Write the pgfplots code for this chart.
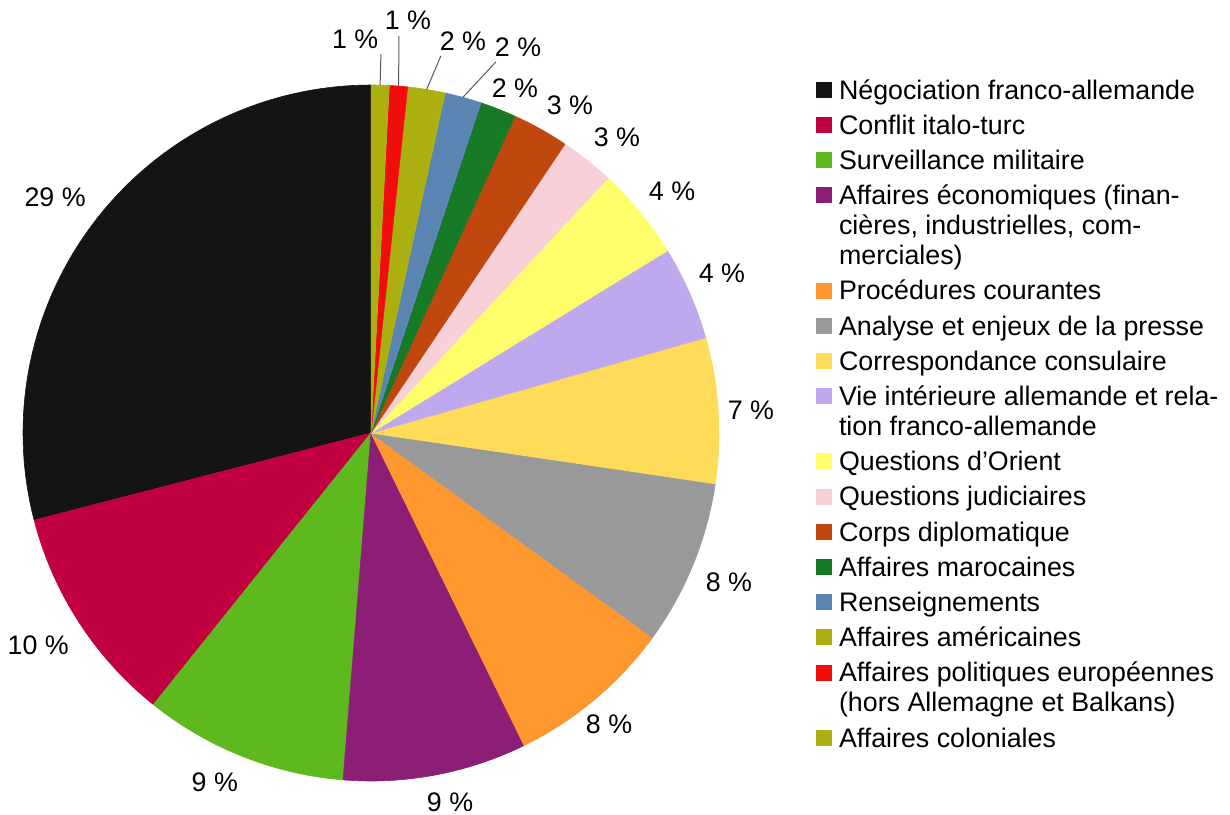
\documentclass[border=0pt]{standalone}
\usepackage{fontspec}
\setmainfont{Liberation Sans}
\usepackage{pgfplots}
\pgfplotsset{compat=1.18}
\usepgfplotslibrary{polar}
\usepackage{pgfplotstable}

\definecolor{cNeg}{HTML}{141414}
\definecolor{cIta}{HTML}{C0003F}
\definecolor{cSur}{HTML}{5EB91E}
\definecolor{cEco}{HTML}{8D1E75}
\definecolor{cPro}{HTML}{FF972F}
\definecolor{cPre}{HTML}{999999}
\definecolor{cCon}{HTML}{FFDB5A}
\definecolor{cVie}{HTML}{BEA8EE}
\definecolor{cOri}{HTML}{FFFF6B}
\definecolor{cJud}{HTML}{F8D1D8}
\definecolor{cDip}{HTML}{C0470D}
\definecolor{cMar}{HTML}{177825}
\definecolor{cRen}{HTML}{5A84B2}
\definecolor{cAme}{HTML}{ABB010}
\definecolor{cEur}{HTML}{F10D0C}
\definecolor{cCol}{HTML}{ABB010}

% line strut for the legend: 10.5pt up, 4.5pt down
\newcommand\ls{\rule[-4.5pt]{0pt}{15pt}}
\newcommand\ml[1]{\parbox[t]{195pt}{\setlength\baselineskip{15pt}#1}}

% share (%), colour, printed percentage, label angle and radius
\pgfplotstableread{
share col  pct la     lr
29.03 cNeg 29  143.25 1.133
10.22 cIta 10  212.5  1.134
9.47  cSur 9   245.9  1.099
8.53  cEco 9   282.1  1.084
7.75  cPro 8   309.3  1.080
7.67  cPre 8   337.3  1.115
6.75  cCon 7   3.46   1.094
4.36  cVie 4   24.5   1.108
4.30  cOri 4   38.8   1.110
2.51  cJud 3   50.3   1.106
2.62  cDip 3   58.75  1.102
1.67  cMar 2   67.35  1.074
1.70  cRen 2   69.15  1.187
1.74  cAme 2   76.8   1.157
0.84  cEur 1   84.9   1.192
0.84  cCol 1   92.3   1.133
}\piedata

\begin{document}
\begin{tikzpicture}[font=\fontsize{13.4}{15}\selectfont]
\begin{polaraxis}[
    at={(0pt,0pt)}, anchor=center,
    scale only axis, width=348pt, height=348pt,
    hide axis, clip=false,
    xmin=0, xmax=360, ymin=0, ymax=1,
    legend style={
        draw=none, fill=none,
        at={(axis description cs:1.1394,1.0098)}, anchor=north west,
        inner sep=0pt, outer sep=0pt,
        row sep=2.6pt, column sep=3.7pt,
        nodes={inner sep=0pt, outer sep=0pt, text depth=, text height=},
        cells={anchor=base west},
    },
    legend image code/.code={\fill[#1] (0pt,1pt) rectangle (7.5pt,8.5pt);},
    legend entries={
        {\ls Négociation franco-allemande},
        {\ls Conflit italo-turc},
        {\ls Surveillance militaire},
        {\ml{\ls Affaires économiques (finan-\\\ls cières, industrielles, com-\\\ls merciales)}},
        {\ls Procédures courantes},
        {\ls Analyse et enjeux de la presse},
        {\ls Correspondance consulaire},
        {\ml{\ls Vie intérieure allemande et rela-\\\ls tion franco-allemande}},
        {\ls Questions d’Orient},
        {\ls Questions judiciaires},
        {\ls Corps diplomatique},
        {\ls Affaires marocaines},
        {\ls Renseignements},
        {\ls Affaires américaines},
        {\ml{\ls Affaires politiques européennes\\\ls (hors Allemagne et Balkans)}},
        {\ls Affaires coloniales},
    },
]
\def\cum{0}
\pgfplotsforeachungrouped \i in {0,...,15}{%
    \pgfplotstablegetelem{\i}{share}\of\piedata \let\s\pgfplotsretval
    \pgfplotstablegetelem{\i}{col}\of\piedata \let\c\pgfplotsretval
    \pgfplotstablegetelem{\i}{pct}\of\piedata \let\p\pgfplotsretval
    \pgfplotstablegetelem{\i}{la}\of\piedata \let\la\pgfplotsretval
    \pgfplotstablegetelem{\i}{lr}\of\piedata \let\lr\pgfplotsretval
    \pgfmathsetmacro\aa{90+3.6*\cum}%
    \pgfmathsetmacro\cum{\cum+\s}%
    \pgfmathsetmacro\bb{90+3.6*\cum}%
    \pgfmathtruncatemacro\nn{ceil((\bb-\aa)/1.5)+1}%
    \xdef\pts{(\aa,0)}%
    \foreach \k in {0,...,\nn}{%
        \pgfmathsetmacro\t{\aa+(\bb-\aa)*\k/\nn}%
        \xdef\pts{\pts (\t,1)}%
    }%
    \edef\doit{%
        \noexpand\addplot[fill=\c, draw=\c, line width=0.3pt, line join=round]
            coordinates {\pts};
        \noexpand\node[inner sep=0pt] at (axis cs:\la,\lr) {\p\noexpand~\noexpand\%};
    }%
    \doit
}

% leader lines of the small slices
\addplot[forget plot, draw=black!65, line width=0.5pt] coordinates {(88.5,1) (88.5,1.089)};
\addplot[forget plot, draw=black!65, line width=0.5pt] coordinates {(85.45,1) (85.97,1.144)};
\addplot[forget plot, draw=black!65, line width=0.5pt] coordinates {(80.8,1) (79.5,1.102)};
\addplot[forget plot, draw=black!65, line width=0.5pt] coordinates {(74.7,1) (71.4,1.125)};
\end{polaraxis}
\pgfresetboundingbox
\path[use as bounding box] (-185.5pt,-190.5pt) rectangle (429.5pt,216.5pt);
\end{tikzpicture}
\end{document}
